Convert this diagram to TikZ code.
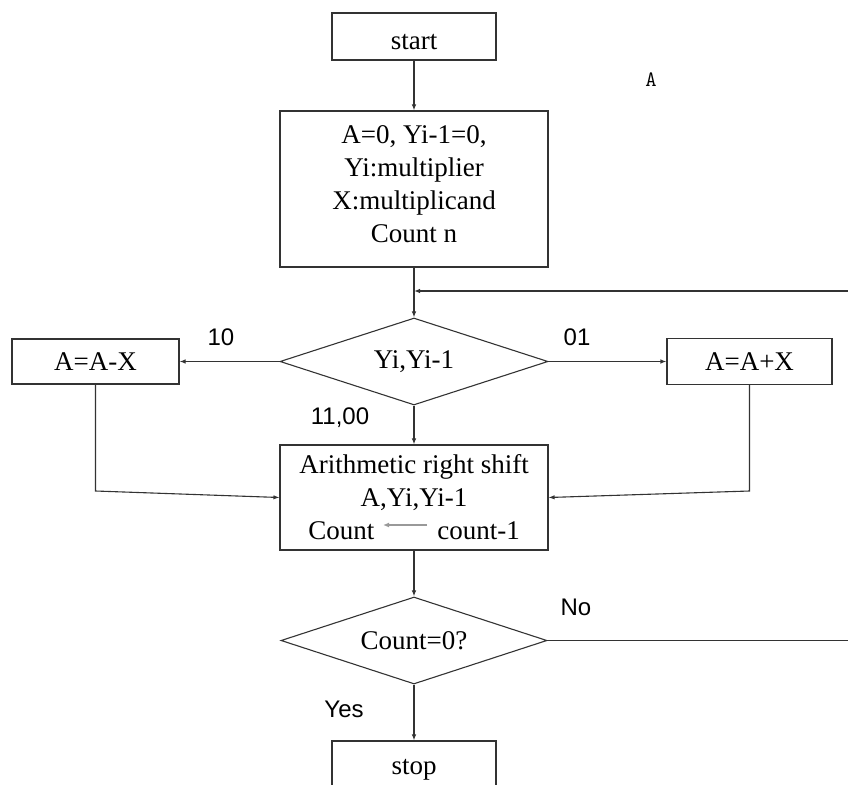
\documentclass[tikz,border=0pt]{standalone}
\usepackage{fontspec}
\setmainfont{Liberation Serif}
\newfontfamily\labelfont{Liberation Sans}
\usetikzlibrary{shapes.geometric,arrows.meta}

\begin{document}
\begin{tikzpicture}[x=1pt,y=-1pt,
  every node/.style={font=\fontsize{27}{33}\selectfont},
  box/.style={draw=black!80, line width=1.1pt, inner sep=0pt, align=center},
  decision/.style={diamond, aspect=3, draw=black!80, line width=1.1pt, inner sep=0pt},
  flow/.style={draw=black!80, line width=1.1pt, -{Latex[length=6pt,width=4.5pt]}},
  link/.style={draw=black!80, line width=1.1pt},
  tag/.style={font=\labelfont\fontsize{24}{28}\selectfont},
]
\useasboundingbox (0,0) rectangle (848,784);
\clip (0,0) rectangle (848,784);

% process boxes and decisions
\node[box, minimum width=164pt, minimum height=47pt, text height=26pt, text depth=0pt] (start) at (414,36.5) {start};
\node[box, minimum width=268pt, minimum height=156pt] (init) at (414,189) {};
\node[align=center, inner sep=0pt] (inittext) at (414,184)
  {A=0, Yi-1=0,\\Yi:multiplier\\X:multiplicand\\Count n};
\node[decision, minimum width=268pt, minimum height=87pt] (test) at (414,361.5) {Yi,Yi-1};
\node[box, minimum width=167pt, minimum height=45pt] (sub) at (95.5,361.5) {A=A-X};
\node[box, minimum width=165pt, minimum height=46pt] (add) at (749.5,361.5) {A=A+X};
\node[box, minimum width=268pt, minimum height=105pt] (shift) at (414,497.5)
  {Arithmetic right shift\\A,Yi,Yi-1\\Count\hspace{63pt}count-1};
\node[decision, minimum width=266pt, minimum height=87pt] (done) at (414,640.5) {Count=0?};
\node[box, minimum width=164pt, minimum height=58pt] (stop) at (414,770) {stop};

% branch labels
\node[tag] (l10) at (221,337) {10};
\node[tag] (l01) at (577,337) {01};
\node[tag] (l1100) at (340,418) {11,00};
\node[tag] (lno) at (576,607) {No};
\node[tag] (lyes) at (344,709) {Yes};
\node[font=\ttfamily\fontsize{22}{26}\selectfont] (mark) at (651,80) {A};

% connectors
\coordinate (loopin) at (848,291);
\coordinate (merge) at (414,291);
\coordinate (subbend) at (95.5,491);
\coordinate (addbend) at (749.5,491);
\coordinate (loopout) at (848,640.5);

\draw[flow] (start) -- (init);
\draw[flow] (init) -- (test);
\draw[flow] (loopin) -- (merge);
\draw[flow] (test) -- (sub);
\draw[flow] (test) -- (add);
\draw[flow] (test) -- (shift);
\draw[flow] (sub) -- (subbend) -- (shift.west);
\draw[flow] (add) -- (addbend) -- (shift.east);
\draw[flow] (shift) -- (done);
\draw[flow] (done) -- (stop);
\draw[link] (done) -- (loopout);

% assignment arrow inside the shift box
\coordinate (cfrom) at (427,525);
\coordinate (cto) at (383,525);
\draw[draw=black!40, line width=1.5pt, -{Latex[length=6pt,width=5pt]}] (cfrom) -- (cto);
\end{tikzpicture}
\end{document}
